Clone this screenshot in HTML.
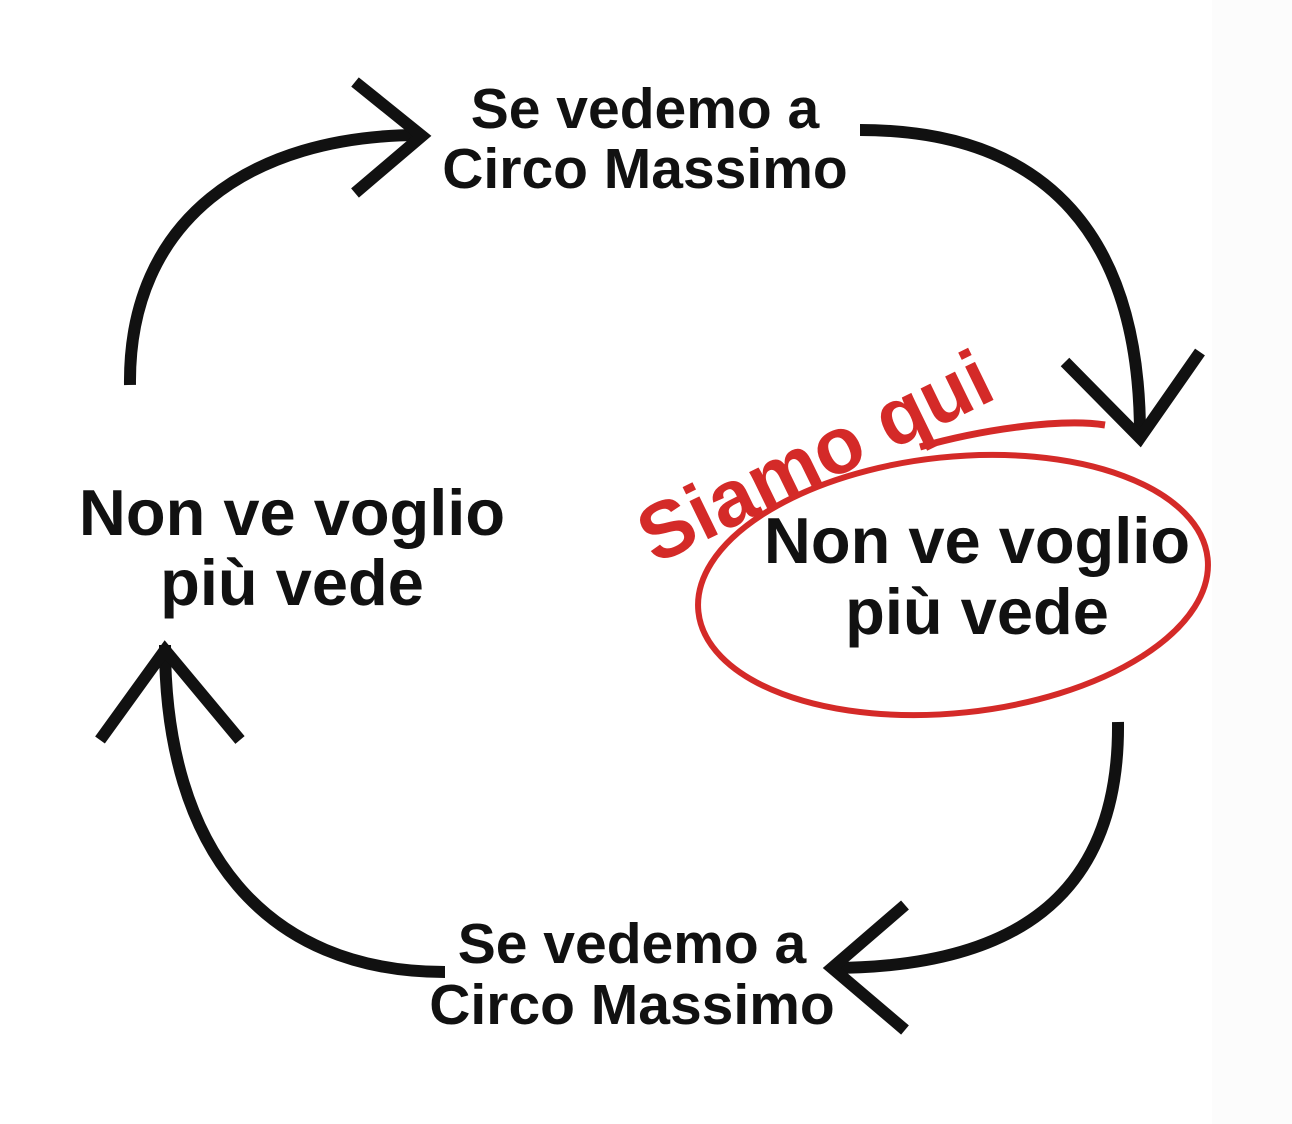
<!DOCTYPE html>
<html><head><meta charset="utf-8"><style>
html,body{margin:0;padding:0;background:#fff;}
body{width:1292px;height:1124px;overflow:hidden;position:relative;}
.side{position:absolute;left:1212px;top:0;width:80px;height:1124px;background:#fcfcfc;}
svg{position:absolute;left:0;top:0;}
</style></head><body>
<div class="side"></div>
<svg width="1292" height="1124" viewBox="0 0 1292 1124">
<g fill="none" stroke="#111" stroke-width="12" stroke-linecap="butt" stroke-linejoin="miter">
<path d="M130,385 C128,220 250,135 420,135"/>
<path d="M355,82 L422,136 L355,193"/>
<path d="M860,130 C1050,130 1140,240 1140,435"/>
<path d="M1065,362 L1140,438 L1200,352"/>
<path d="M1118,722 C1120,900 1010,968 830,968"/>
<path d="M905,905 L832,968 L905,1030"/>
<path d="M445,972 C265,972 165,850 165,645"/>
<path d="M100,740 L165,650 L240,740"/>
</g>
<g font-family="'Liberation Sans',sans-serif" font-weight="bold" fill="#111" text-anchor="middle">
<text x="645" y="128" font-size="57">Se vedemo a</text>
<text x="645" y="188" font-size="57">Circo Massimo</text>
<text x="292" y="535" font-size="65">Non ve voglio</text>
<text x="292" y="605" font-size="65">più vede</text>
<text x="977" y="563" font-size="65">Non ve voglio</text>
<text x="977" y="634" font-size="65">più vede</text>
<text x="632" y="963" font-size="57">Se vedemo a</text>
<text x="632" y="1024" font-size="57">Circo Massimo</text>
</g>
<g fill="none" stroke="#d42a28" stroke-width="6">
<ellipse cx="953" cy="585" rx="256" ry="128" transform="rotate(-6 953 585)"/>
<path d="M920,447 C980,430 1060,418 1105,425" stroke-width="7"/>
</g>
<text x="0" y="0" transform="translate(655,565) rotate(-26)" font-family="'Liberation Sans',sans-serif" font-weight="bold" font-size="80" fill="#d42a28">Siamo qui</text>
</svg>
</body></html>
